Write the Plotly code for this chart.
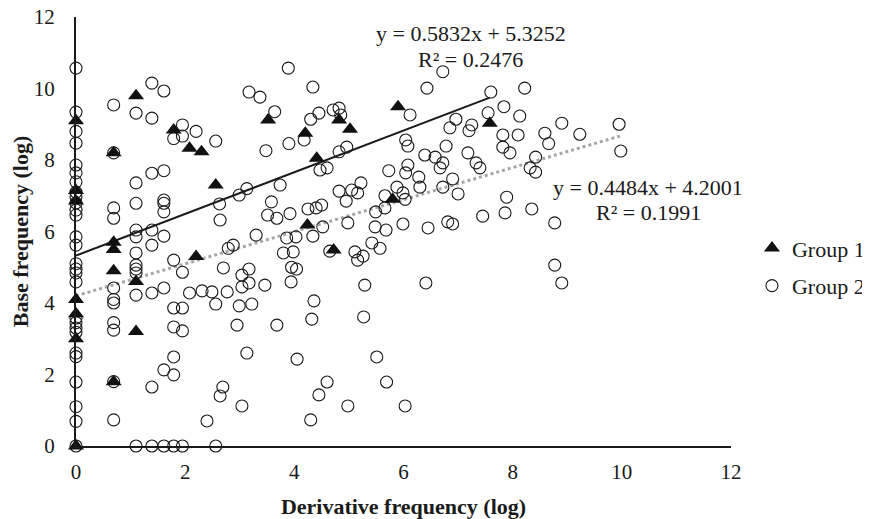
import plotly.graph_objects as go

# ---------------- data ----------------
group1_x = [0, 0, 0, 0, 0, 0, 0,
            0.69, 0.69, 0.69, 0.69, 0.69,
            1.1, 1.1, 1.1,
            1.79, 2.08, 2.3, 2.56, 2.2,
            3.52, 4.2, 4.41, 4.82, 5.02, 5.8, 4.24, 4.72, 5.9, 7.58]
group1_y = [9.1, 7.15, 6.85, 4.1, 3.7, 3.0, 0,
            8.2, 5.7, 5.5, 4.9, 1.8,
            9.8, 4.6, 3.2,
            8.84, 8.33, 8.23, 7.3, 5.3,
            9.12, 8.75, 8.05, 9.12, 8.86, 6.9, 6.18, 5.48, 9.49, 9.03]

# group 2: points stacked on discrete derivative values (columns)
col_x = [0, 0.69, 1.1, 1.39, 1.61, 1.79, 1.95]
col_y = [
    [10.57, 9.34, 8.8, 8.47, 7.86, 7.64, 7.39, 7.1, 6.97, 6.8, 6.6, 6.46, 5.85, 5.62,
     5.1, 4.95, 4.84, 4.59, 3.58, 3.45, 3.3, 3.18, 2.6, 2.5, 1.79, 1.1, 0.69, 0],
    [9.54, 8.2, 6.66, 6.37, 4.42, 4.1, 4.0, 3.45, 3.24, 1.8, 0.73],
    [9.31, 7.36, 6.79, 6.04, 5.85, 5.4, 5.06, 4.95, 4.84, 4.22, 0],
    [10.15, 9.17, 7.63, 6.04, 5.62, 4.28, 1.65, 0],
    [9.93, 7.7, 6.88, 6.79, 6.55, 5.87, 4.42, 2.13, 0],
    [8.6, 5.2, 3.86, 3.33, 2.49, 1.99, 0],
    [8.98, 8.67, 4.86, 3.86, 3.22, 0],
]

# group 2: remaining scattered points
scat_x = [2.2, 2.56, 2.08, 2.31, 2.49, 2.77, 2.56, 2.99, 3.22, 2.95,
          3.68, 3.13, 2.69, 2.64, 3.04, 2.4, 2.56, 2.7, 3.04, 3.17,
          3.17, 3.04, 3.46, 3.89, 3.17, 3.37, 3.64, 3.48, 3.9, 4.18,
          2.99, 3.13, 3.74, 3.58, 3.51, 3.68, 3.92, 2.63, 2.64, 2.79,
          2.88, 3.3, 3.86, 4.03, 3.8, 3.98, 4.34, 6.43, 6.72, 7.6,
          8.22, 4.45, 4.3, 4.71, 4.82, 4.85, 6.12, 7.55, 7.84, 8.13,
          8.9, 6.96, 6.85, 7.25, 7.2, 7.82, 7.82, 7.95, 8.1, 8.59,
          8.66, 9.23, 6.04, 6.08, 6.78, 7.18, 4.82, 4.96, 6.39, 6.58,
          6.72, 6.67, 7.33, 7.4, 8.42, 8.32, 8.42, 5.73, 6.08, 6.04,
          6.28, 6.3, 6.9, 6.72, 7.0, 7.89, 4.47, 4.6, 4.82, 5.05,
          5.16, 5.22, 4.95, 5.88, 5.99, 6.03, 5.66, 5.66, 4.25, 4.4,
          4.5, 5.49, 4.98, 4.52, 5.99, 6.45, 6.81, 6.9, 7.45, 7.86,
          8.35, 8.77, 5.48, 5.68, 4.34, 5.11, 5.26, 5.42, 5.57, 4.65,
          3.95, 4.04, 3.94, 4.36, 4.32, 5.16, 5.29, 5.27, 6.41, 8.77,
          8.9, 4.05, 5.51, 4.6, 4.45, 5.69, 4.98, 6.03, 4.3, 9.95,
          9.98]
scat_y = [8.8, 8.53, 4.28, 4.34, 4.31, 4.31, 3.97, 3.92, 3.97, 3.38,
          3.38, 2.6, 1.65, 1.4, 1.12, 0.7, 0, 4.98, 4.78, 4.95,
          4.56, 4.45, 4.5, 10.57, 9.9, 9.76, 9.35, 8.26, 8.46, 8.56,
          7.02, 7.2, 7.3, 6.83, 6.46, 6.37, 6.5, 6.77, 6.32, 5.53,
          5.62, 5.9, 5.82, 5.85, 5.4, 5.43, 10.04, 10.01, 10.47, 9.9,
          10.01, 9.31, 9.14, 9.4, 9.45, 9.26, 9.26, 9.32, 9.49, 9.23,
          9.03, 9.14, 8.9, 8.98, 8.82, 8.7, 8.36, 8.2, 8.7, 8.75,
          8.46, 8.72, 8.56, 8.39, 8.39, 8.2, 8.23, 8.36, 8.14, 8.08,
          7.92, 7.78, 7.92, 7.78, 8.08, 7.78, 7.66, 7.7, 7.86, 7.64,
          7.52, 7.24, 7.47, 7.24, 7.05, 6.96, 7.72, 7.78, 7.13, 7.16,
          7.08, 7.36, 6.85, 7.24, 7.08, 6.9, 7.0, 6.66, 6.63, 6.66,
          6.74, 6.55, 6.24, 6.13, 6.21, 6.1, 6.27, 6.21, 6.43, 6.52,
          6.63, 6.24, 6.13, 6.04, 5.87, 5.43, 5.31, 5.68, 5.53, 5.45,
          5.0, 4.95, 4.59, 4.06, 3.55, 5.2, 4.5, 3.61, 4.56, 5.06,
          4.56, 2.43, 2.49, 1.79, 1.43, 1.79, 1.12, 1.12, 0.73, 9.0,
          8.25]

# trendline equations (as printed on the chart)
fit1 = (0.5832, 5.3252, 0.2476)
fit2 = (0.4484, 4.2001, 0.1991)

axis_ticks = [0, 2, 4, 6, 8, 10, 12]

# ---------------- build ----------------
group2_x = []
group2_y = []
for cx, ys in zip(col_x, col_y):
    group2_x += [cx] * len(ys)
    group2_y += ys
group2_x += scat_x
group2_y += scat_y

FONT = "Liberation Serif, Times New Roman, serif"
INK = "#1a1a1a"

fig = go.Figure()

# trendlines
x1 = [min(group1_x), max(group1_x)]
x2 = [min(group2_x), max(group2_x)]
fig.add_trace(go.Scatter(x=x2, y=[fit2[0] * v + fit2[1] for v in x2], mode="lines",
                         line=dict(color="#a6a6a6", width=3, dash="dot"),
                         showlegend=False, hoverinfo="skip"))
fig.add_trace(go.Scatter(x=x1, y=[fit1[0] * v + fit1[1] for v in x1], mode="lines",
                         line=dict(color=INK, width=2),
                         showlegend=False, hoverinfo="skip"))

fig.add_trace(go.Scatter(x=group2_x, y=group2_y, mode="markers", name="Group 2",
                         legendgroup="g2", legendrank=2,
                         marker=dict(symbol="circle-open", size=12, color=INK,
                                     line=dict(width=1.1, color=INK)),
                         cliponaxis=False))
fig.add_trace(go.Scatter(x=group1_x, y=group1_y, mode="markers", name="Group 1",
                         legendgroup="g1", legendrank=1,
                         marker=dict(symbol="triangle-up", size=14, color="#111111"),
                         cliponaxis=False))

ann_font = dict(family=FONT, size=22, color=INK)
fig.add_annotation(x=7.23, y=11.55, xref="x", yref="y",
                   text=f"y = {fit1[0]}x + {fit1[1]}", showarrow=False, font=ann_font)
fig.add_annotation(x=7.23, y=10.8, xref="x", yref="y",
                   text=f"R² = {fit1[2]}", showarrow=False, font=ann_font)
fig.add_annotation(x=10.48, y=7.22, xref="x", yref="y",
                   text=f"y = {fit2[0]}x + {fit2[1]}", showarrow=False, font=ann_font)
fig.add_annotation(x=10.48, y=6.52, xref="x", yref="y",
                   text=f"R² = {fit2[2]}", showarrow=False, font=ann_font)

# the page body adds an 8px offset; margins compensate so the plot lands where the
# reference has it (the extra width beyond the window only holds legend padding)
fig.update_layout(
    width=890, height=519,
    margin=dict(l=68, r=167, t=9, b=81),
    paper_bgcolor="white", plot_bgcolor="white",
    font=dict(family=FONT, size=21, color=INK),
    showlegend=True,
    legend=dict(x=1.032, y=0.51, xanchor="left", yanchor="top",
                traceorder="grouped", tracegroupgap=6,
                font=dict(family=FONT, size=22, color=INK),
                bgcolor="rgba(0,0,0,0)", itemwidth=30),
    xaxis=dict(range=[0, 12], tickvals=axis_ticks, showgrid=False, zeroline=False,
               showline=True, linecolor=INK, linewidth=2, ticks="",
               ticklabelstandoff=6, automargin=False, ticklabeloverflow="allow",
               title=dict(text="<b>Derivative frequency (log)</b>", standoff=15,
                          font=dict(family=FONT, size=22))),
    yaxis=dict(range=[0, 12], tickvals=axis_ticks, showgrid=False, zeroline=False,
               showline=True, linecolor=INK, linewidth=2, ticks="",
               ticklabelstandoff=15, automargin=False, ticklabeloverflow="allow",
               title=dict(text="<b>Base frequency (log)</b>", standoff=11,
                          font=dict(family=FONT, size=22))),
)

fig.write_html("out.html")
